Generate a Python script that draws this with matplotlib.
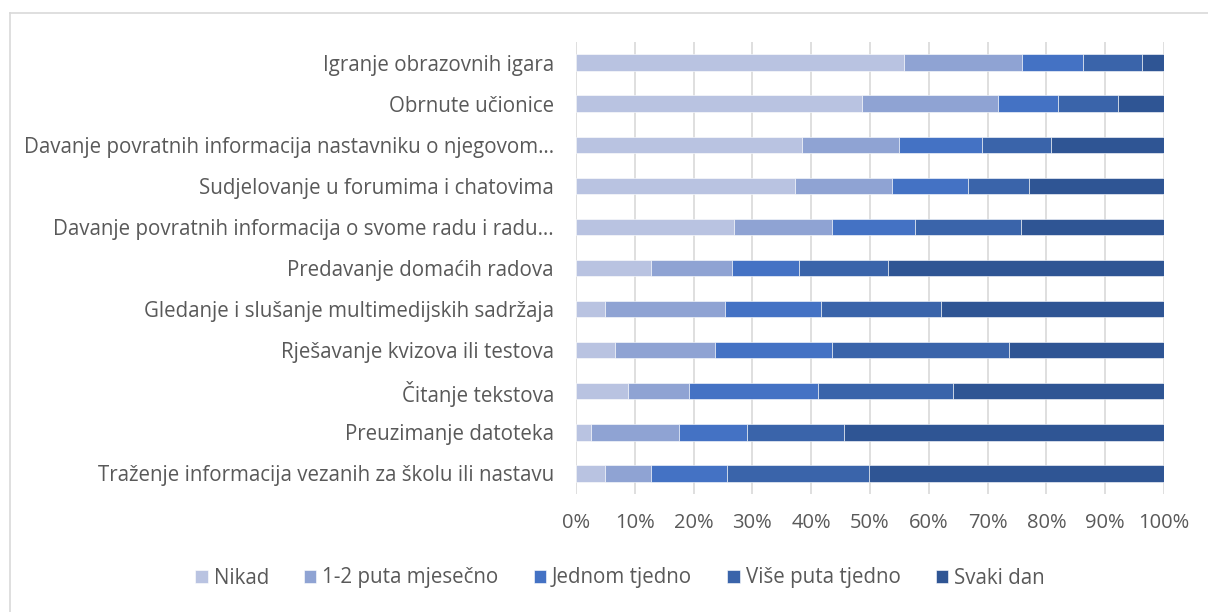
import matplotlib
matplotlib.use("Agg")
import matplotlib.pyplot as plt
from matplotlib.lines import Line2D
import numpy as np

categories = [
    "Igranje obrazovnih igara",
    "Obrnute učionice",
    "Davanje povratnih informacija nastavniku o njegovom…",
    "Sudjelovanje u forumima i chatovima",
    "Davanje povratnih informacija o svome radu i radu…",
    "Predavanje domaćih radova",
    "Gledanje i slušanje multimedijskih sadržaja",
    "Rješavanje kvizova ili testova",
    "Čitanje tekstova",
    "Preuzimanje datoteka",
    "Traženje informacija vezanih za školu ili nastavu",
]
series_names = ["Nikad", "1-2 puta mjesečno", "Jednom tjedno", "Više puta tjedno", "Svaki dan"]
nikad = [55.7, 48.7, 38.4, 37.2, 26.9, 12.7, 5.0, 6.6, 8.9, 2.5, 5.0]
mjesecno = [20.2, 23.0, 16.6, 16.6, 16.7, 13.8, 20.3, 17.0, 10.3, 15.1, 7.8]
jednom = [10.3, 10.3, 14.1, 12.8, 14.1, 11.5, 16.4, 19.9, 21.9, 11.5, 12.8]
vise = [10.0, 10.2, 11.6, 10.4, 17.9, 15.1, 20.3, 30.2, 23.0, 16.4, 24.3]
svaki = [3.8, 7.8, 19.3, 23.0, 24.4, 46.9, 38.0, 26.3, 35.9, 54.5, 50.1]
x_ticks = [0, 10, 20, 30, 40, 50, 60, 70, 80, 90, 100]
x_tick_labels = ["0%", "10%", "20%", "30%", "40%", "50%", "60%", "70%", "80%", "90%", "100%"]

colors = ["#B9C3E1", "#8FA3D3", "#4472C4", "#3A64AA", "#2F5594"]

plt.rcParams['font.family'] = ['Open Sans', 'DejaVu Sans']
FS = 14.8

fig = plt.figure(figsize=(12.08, 6.12), dpi=100)
ax = fig.add_axes([576/1208, 1-494/612, (1164-576)/1208, (494-42)/612])

data = [nikad, mjesecno, jednom, vise, svaki]
y = np.arange(len(categories))
left = np.zeros(len(categories))
for name, vals, c in zip(series_names, data, colors):
    vals = np.array(vals)
    ax.barh(y, vals, left=left, height=0.4, color=c, label=name,
            edgecolor="white", linewidth=0.4, zorder=3)
    left += vals

ax.set_xlim(0, 100)
ax.set_ylim(len(categories) - 0.5, -0.5)
ax.set_yticks(y)
ax.set_yticklabels(categories, fontsize=FS, color="#595959")
ax.set_xticks(x_ticks)
ax.set_xticklabels(x_tick_labels, fontsize=14.5, color="#595959")
ax.tick_params(axis='both', length=0)
ax.tick_params(axis='y', pad=16)
ax.tick_params(axis='x', pad=14)
for s in ax.spines.values():
    s.set_visible(False)
ax.grid(axis='x', color="#D9D9D9", linewidth=1.2, zorder=0)

fig.legend(loc="center", bbox_to_anchor=(620/1208, 1-578/612), ncol=5,
           frameon=False, fontsize=FS, handlelength=0.6, handleheight=0.6,
           handletextpad=0.3, columnspacing=1.7, labelcolor="#595959")

# chart-area border (top and left visible in the reference)
fig.add_artist(Line2D([9.5/1208, 1.0], [1-13/612, 1-13/612], transform=fig.transFigure,
                      color="#D9D9D9", linewidth=1.2))
fig.add_artist(Line2D([9.5/1208, 9.5/1208], [0, 1-13/612], transform=fig.transFigure,
                      color="#D9D9D9", linewidth=1.2))

fig.savefig("out.png", dpi=100)
